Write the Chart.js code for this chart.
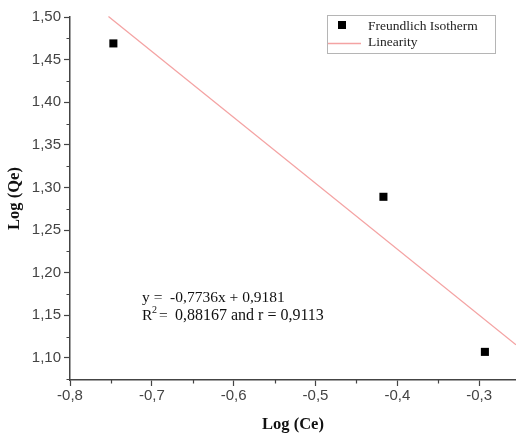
<!DOCTYPE html>
<html lang="en">
<head>
  <meta charset="UTF-8" />
  <title>Freundlich Isotherm</title>
  <script src="https://cdn.jsdelivr.net/npm/chart.js"></script>
  <style>
    body { margin: 0; background: #ffffff; }
    #chart { display: block; }
  </style>
</head>
<body>
  <canvas id="chart" width="516" height="437"></canvas>

  <script>
    // data
    const logCe = [-0.747, -0.417, -0.293];
    const logQe = [1.469, 1.289, 1.107];
    const fitX = [-0.753, -0.255];
    const fitY = [1.5006, 1.1154];
    const xTicks = [-0.8, -0.7, -0.6, -0.5, -0.4, -0.3];
    const yTicks = [1.10, 1.15, 1.20, 1.25, 1.30, 1.35, 1.40, 1.45, 1.50];
    const eqLines = ['y =  -0,7736x + 0,9181', '0,88167 and r = 0,9113'];

    const axisColor = '#444';
    const comma = (v, d) => v.toFixed(d).replace('.', ',');

    // minor ticks halfway between the major ones
    function drawMinor(chart) {
      const ctx = chart.ctx;
      const xs = chart.scales.x, ys = chart.scales.y;
      const a = chart.chartArea;
      ctx.save();
      ctx.strokeStyle = axisColor;
      ctx.lineWidth = 1.2;
      ctx.beginPath();
      for (let i = 0; i < xTicks.length; i++) {
        const v = xTicks[i] + 0.05;
        if (v > xs.max) continue;
        const px = Math.round(xs.getPixelForValue(v)) + 0.5;
        ctx.moveTo(px, a.bottom);
        ctx.lineTo(px, a.bottom + 3.5);
      }
      for (let i = 0; i < yTicks.length; i++) {
        const v = yTicks[i] - 0.025;
        if (v < ys.min) continue;
        const py = Math.round(ys.getPixelForValue(v)) + 0.5;
        ctx.moveTo(a.left, py);
        ctx.lineTo(a.left - 3.5, py);
      }
      ctx.stroke();
      ctx.restore();
    }

    const extras = {
      id: 'extras',
      afterDraw(chart) {
        drawMinor(chart);
        const ctx = chart.ctx;
        ctx.save();

        // legend box
        const lx = 327, ly = 15, lw = 168, lh = 38;
        ctx.strokeStyle = '#b5b5b5';
        ctx.lineWidth = 1;
        ctx.strokeRect(lx + 0.5, ly + 0.5, lw, lh);
        ctx.fillStyle = '#000';
        ctx.fillRect(338, 21, 8, 8);
        ctx.strokeStyle = '#f4a3a3';
        ctx.lineWidth = 1.3;
        ctx.beginPath();
        ctx.moveTo(328, 43.5);
        ctx.lineTo(361, 43.5);
        ctx.stroke();
        ctx.fillStyle = '#222';
        ctx.font = '13.5px "Liberation Serif", serif';
        ctx.textBaseline = 'middle';
        ctx.fillText(chart.data.datasets[0].label, 368, 26);
        ctx.fillText(chart.data.datasets[1].label, 368, 42);

        // equation text
        ctx.font = '15.5px "Liberation Serif", serif';
        ctx.fillStyle = '#111';
        ctx.fillText(eqLines[0], 142, 298);
        ctx.fillText('R', 142, 316);
        ctx.fillText('=', 159, 316);
        ctx.font = '10px "Liberation Serif", serif';
        ctx.fillText('2', 152, 310);
        ctx.font = '16px "Liberation Serif", serif';
        ctx.fillText(eqLines[1], 175, 316);
        ctx.restore();
      }
    };

    new Chart(document.getElementById('chart'), {
      type: 'scatter',
      data: {
        datasets: [
          {
            label: 'Freundlich Isotherm',
            data: logCe.map((x, i) => ({ x: x, y: logQe[i] })),
            pointStyle: 'rect',
            pointRadius: 5.7,
            backgroundColor: '#000',
            borderColor: '#000',
            borderWidth: 0,
            order: 1
          },
          {
            label: 'Linearity',
            type: 'line',
            data: fitX.map((x, i) => ({ x: x, y: fitY[i] })),
            borderColor: '#f4a3a3',
            borderWidth: 1.3,
            pointRadius: 0,
            fill: false,
            clip: false,
            order: 2
          }
        ]
      },
      options: {
        responsive: false,
        animation: false,
        devicePixelRatio: 1,
        layout: { autoPadding: false, padding: { top: 17, right: 0, left: 0, bottom: 0 } },
        plugins: { legend: { display: false }, tooltip: { enabled: false } },
        scales: {
          x: {
            type: 'linear',
            min: -0.8,
            max: -0.255,
            afterFit(s) { s.height = 57; },
            afterBuildTicks(s) { s.ticks = xTicks.map(v => ({ value: v })); },
            grid: { drawOnChartArea: false, tickLength: 6, tickColor: axisColor, tickWidth: 1.2 },
            border: { color: axisColor, width: 1.5 },
            ticks: {
              color: '#444',
              padding: 1,
              maxRotation: 0,
              font: { family: '"Liberation Sans", Arial, sans-serif', size: 15 },
              callback: v => comma(v, 1)
            },
            title: {
              display: true,
              text: 'Log (Ce)',
              color: '#111',
              padding: { top: 5, bottom: 2.5 },
              font: { family: '"Liberation Serif", serif', size: 16.5, weight: 'bold' }
            }
          },
          y: {
            type: 'linear',
            min: 1.074,
            max: 1.50,
            afterFit(s) { s.width = 70; },
            afterBuildTicks(s) { s.ticks = yTicks.map(v => ({ value: v })); },
            grid: { drawOnChartArea: false, tickLength: 6, tickColor: axisColor, tickWidth: 1.2 },
            border: { color: axisColor, width: 1.5 },
            ticks: {
              color: '#444',
              padding: 3,
              font: { family: '"Liberation Sans", Arial, sans-serif', size: 15 },
              callback: v => comma(v, 2)
            },
            title: {
              display: true,
              text: 'Log (Qe)',
              color: '#111',
              padding: { top: 5, bottom: 2.5 },
              font: { family: '"Liberation Serif", serif', size: 16.5, weight: 'bold' }
            }
          }
        }
      },
      plugins: [extras]
    });
  </script>
</body>
</html>
